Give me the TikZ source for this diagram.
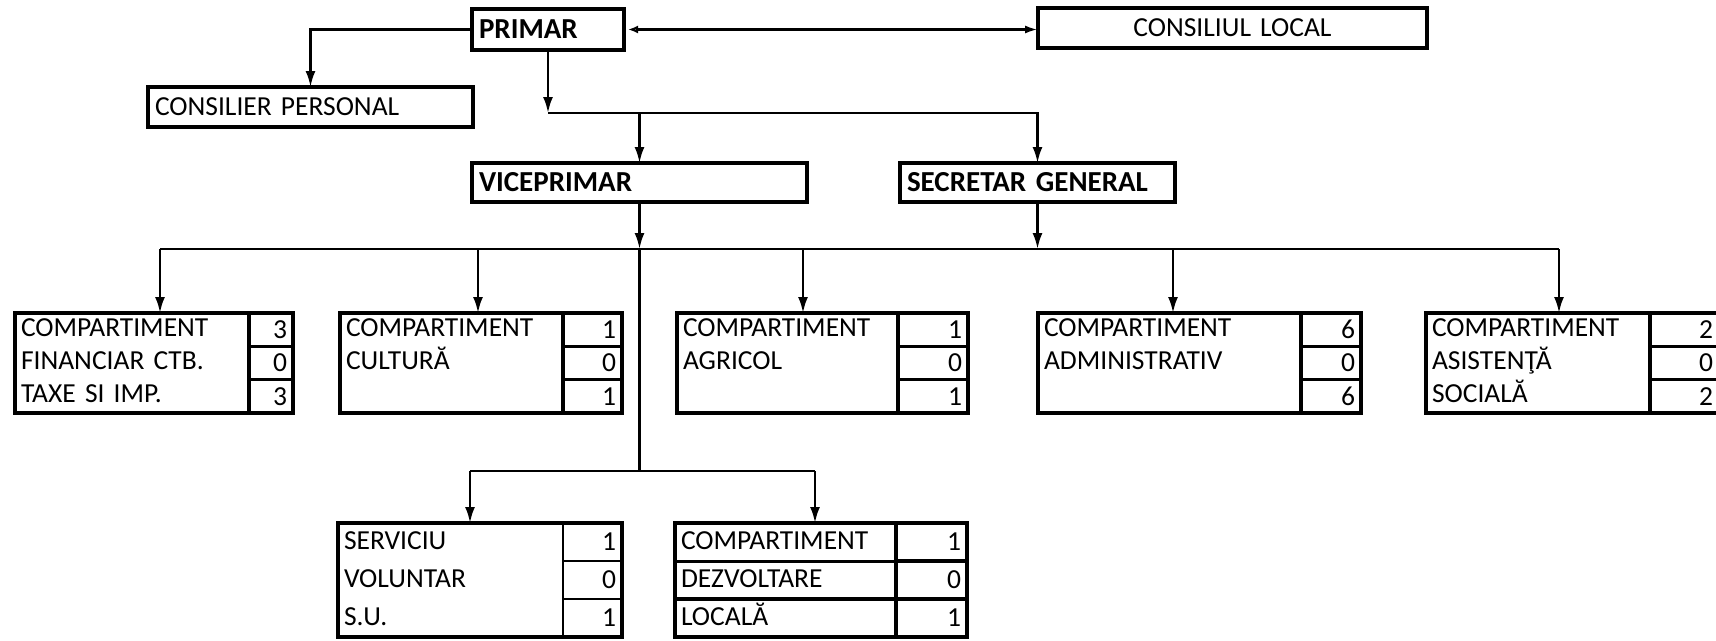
\documentclass[tikz,border=0pt]{standalone}
\usepackage{fontspec}
\setmainfont{Carlito}
\usetikzlibrary{arrows.meta}

\newcommand{\rows}[3]{\strut#1\\\strut#2\\\strut#3}

\tikzset{
  post/.style={draw, line width=3.5pt, outer sep=0pt, inner xsep=7pt,
               inner ysep=0pt, anchor=north west, align=left,
               font=\fontsize{27.5}{33}\selectfont},
  dept/.style={draw, line width=4pt, outer sep=0pt, inner xsep=6pt,
               inner ysep=0pt, anchor=north west, align=left,
               font=\fontsize{27.5}{33.33}\selectfont},
  tall/.style={font=\fontsize{27.5}{38}\selectfont},
  cnt/.style={draw, line width=3.5pt, outer sep=0pt, inner xsep=6pt,
              inner ysep=0pt, anchor=north east, align=right,
              minimum height=33.33pt, font=\fontsize{27.5}{33}\selectfont},
  conn/.style={draw, line width=2.5pt, -{Latex[length=16pt, width=10pt]}},
  bus/.style={draw, line width=2.5pt}
}

\begin{document}
\begin{tikzpicture}[x=1pt, y=-1pt]
  \useasboundingbox (0,0) rectangle (1716,640);
  \clip (0,0) rectangle (1716,640);

  % conducere
  \node[post, font=\fontsize{29}{33}\selectfont\bfseries, text width=138pt,
        minimum height=41pt] (primar) at (472,9) {PRIMAR};
  \node[post, text width=311pt, minimum height=40pt] (consilier) at (148,87)
    {CONSILIER PERSONAL};
  \node[post, align=center, text width=375pt, minimum height=40pt] (local)
    at (1038,8) {CONSILIUL LOCAL};
  \node[post, font=\fontsize{29}{33}\selectfont\bfseries, text width=321pt,
        minimum height=39pt] (vice) at (472,163) {VICEPRIMAR};
  \node[post, font=\fontsize{29}{33}\selectfont\bfseries, text width=261pt,
        minimum height=39pt] (secretar) at (900,163) {SECRETAR GENERAL};

  % compartimente
  \node[dept, text width=266pt] (fin) at (15,313)
    {\rows{COMPARTIMENT}{FINANCIAR CTB.}{TAXE SI IMP.}};
  \node[cnt, text width=32pt] (fin1) at (fin.north east) {3};
  \node[cnt, text width=32pt] (fin2) at (fin1.south east) {0};
  \node[cnt, text width=32pt] (fin3) at (fin2.south east) {3};

  \node[dept, text width=270pt] (cult) at (340,313)
    {\rows{COMPARTIMENT}{CULTURĂ}{}};
  \node[cnt, text width=47pt] (cult1) at (cult.north east) {1};
  \node[cnt, text width=47pt] (cult2) at (cult1.south east) {0};
  \node[cnt, text width=47pt] (cult3) at (cult2.south east) {1};

  \node[dept, text width=279pt] (agri) at (677,313)
    {\rows{COMPARTIMENT}{AGRICOL}{}};
  \node[cnt, text width=58pt] (agri1) at (agri.north east) {1};
  \node[cnt, text width=58pt] (agri2) at (agri1.south east) {0};
  \node[cnt, text width=58pt] (agri3) at (agri2.south east) {1};

  \node[dept, text width=311pt] (adm) at (1038,313)
    {\rows{COMPARTIMENT}{ADMINISTRATIV}{}};
  \node[cnt, text width=48pt] (adm1) at (adm.north east) {6};
  \node[cnt, text width=48pt] (adm2) at (adm1.south east) {0};
  \node[cnt, text width=48pt] (adm3) at (adm2.south east) {6};

  \node[dept, text width=280pt] (asist) at (1426,313)
    {\rows{COMPARTIMENT}{ASISTENŢĂ}{SOCIALĂ}};
  \node[cnt, inner xsep=5pt, text width=58pt] (asist1) at (asist.north east) {2};
  \node[cnt, inner xsep=5pt, text width=58pt] (asist2) at (asist1.south east) {0};
  \node[cnt, inner xsep=5pt, text width=58pt] (asist3) at (asist2.south east) {2};

  % subordonate viceprimar
  \node[dept, tall, text width=272pt] (serv) at (338,523)
    {\rows{SERVICIU}{VOLUNTAR}{S.U.}};
  \node[cnt, minimum height=38pt, line width=2.5pt, text width=47pt] (serv1)
    at (serv.north east) {1};
  \node[cnt, minimum height=38pt, line width=2.5pt, text width=47pt] (serv2)
    at (serv1.south east) {0};
  \node[cnt, minimum height=38pt, line width=2.5pt, text width=47pt] (serv3)
    at (serv2.south east) {1};

  \node[dept, tall, text width=280pt] (dezv) at (675,523)
    {\rows{COMPARTIMENT}{DEZVOLTARE}{LOCALĂ}};
  \node[cnt, minimum height=38pt, text width=59pt] (dezv1) at (dezv.north east) {1};
  \node[cnt, minimum height=38pt, text width=59pt] (dezv2) at (dezv1.south east) {0};
  \node[cnt, minimum height=38pt, text width=59pt] (dezv3) at (dezv2.south east) {1};
  \draw[bus, line width=3pt] (dezv.west |- dezv1.south) -- (dezv1.south west);
  \draw[bus, line width=3.5pt] (dezv.west |- dezv2.south) -- (dezv2.south west);

  % legaturi
  \coordinate (jv) at (548,113);
  \coordinate (b1) at (160,249);
  \coordinate (b2) at (478,249);
  \coordinate (b3) at (803,249);
  \coordinate (b4) at (1173,249);
  \coordinate (b5) at (1559,249);
  \coordinate (jd) at (640,471);
  \coordinate (d1) at (470,471);
  \coordinate (d2) at (815,471);

  \draw[conn] (primar.west) -| (consilier.north);
  \draw[conn, {Latex[open, length=10pt, width=8pt]}-{Latex[length=13pt, width=8pt]},
        shorten <=4pt] (primar.east) -- (primar.east -| local.west);
  \draw[conn] (primar.south) -- (jv);
  \draw[conn] (jv) -| (vice.north);
  \draw[conn] (jv) -| (secretar.north);

  \draw[bus] (b1) -- (b5);
  \draw[conn] (vice.south) -- (vice.south |- b1);
  \draw[conn] (secretar.south) -- (secretar.south |- b1);
  \draw[conn] (b1) -- (b1 |- fin.north);
  \draw[conn] (b2) -- (b2 |- cult.north);
  \draw[conn] (b3) -- (b3 |- agri.north);
  \draw[conn] (b4) -- (b4 |- adm.north);
  \draw[conn] (b5) -- (b5 |- asist.north);

  \draw[bus] (vice.south |- b1) -- (vice.south |- jd);
  \draw[bus] (d1) -- (d2);
  \draw[conn] (d1) -- (d1 |- serv.north);
  \draw[conn] (d2) -- (d2 |- dezv.north);
\end{tikzpicture}
\end{document}
